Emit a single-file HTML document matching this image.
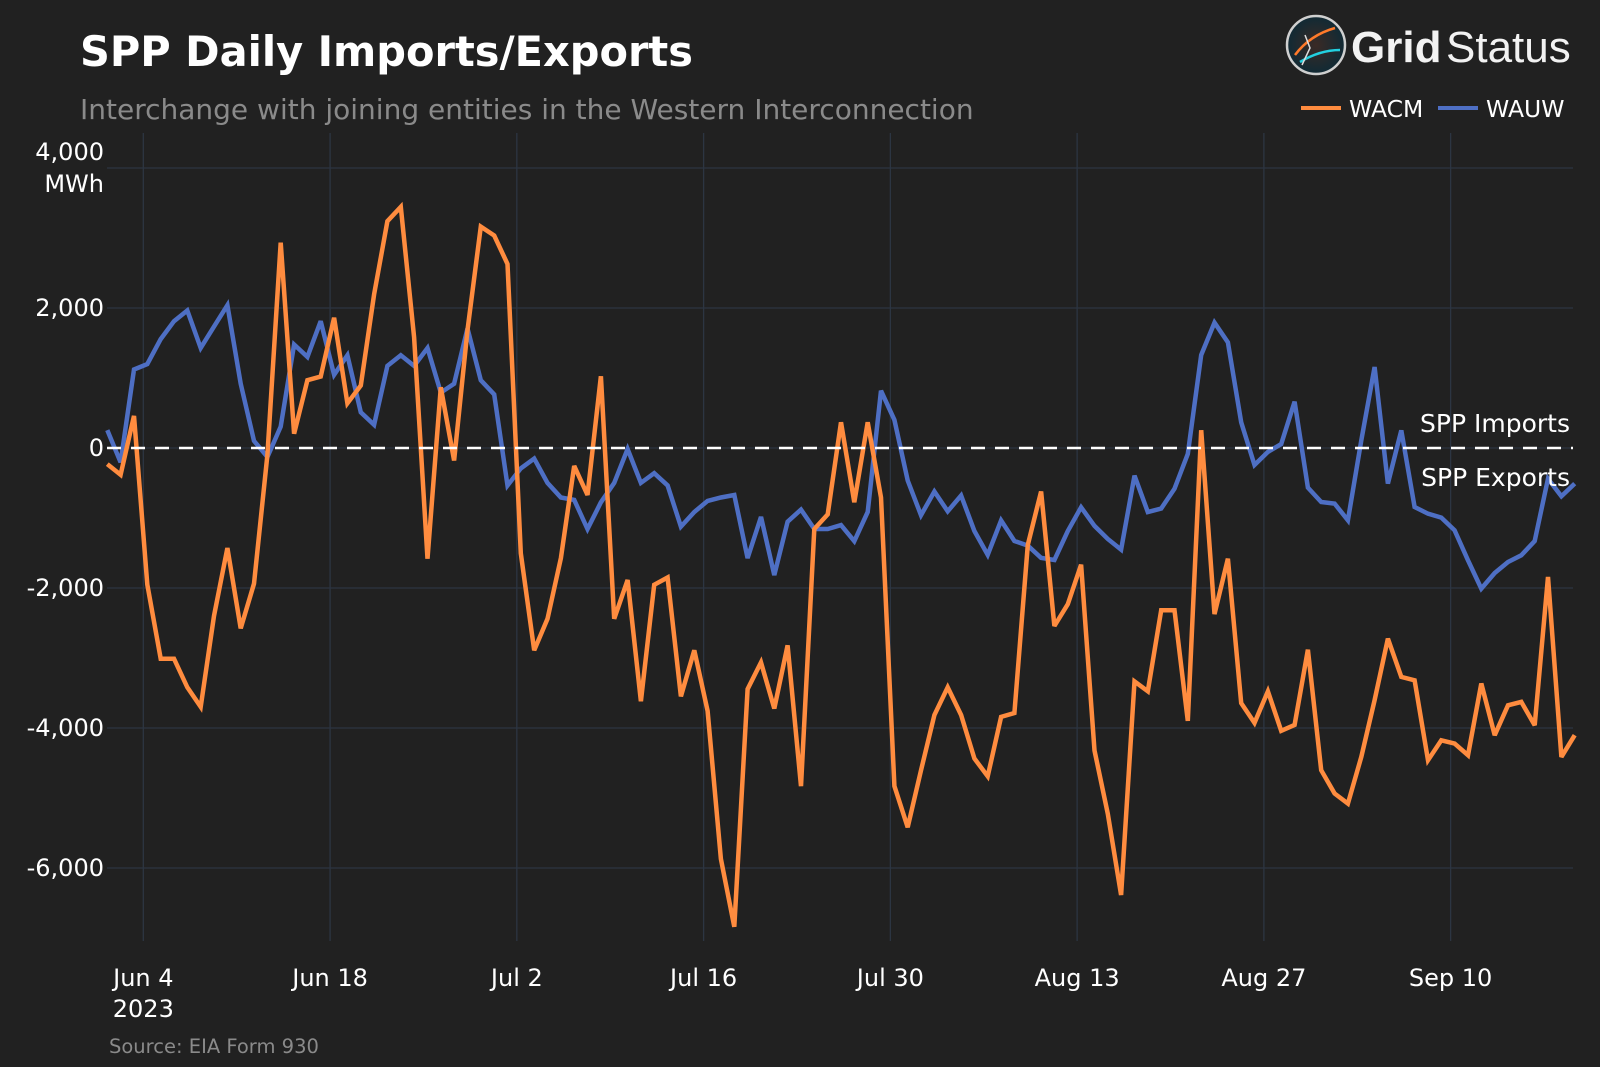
<!DOCTYPE html>
<html><head><meta charset="utf-8"><style>
body{margin:0;background:#212121;}
svg{display:block;font-family:"Liberation Sans","DejaVu Sans",sans-serif;}
</style></head><body>
<svg id="chart" width="1600" height="1067" viewBox="0 0 1600 1067">
<rect width="1600" height="1067" fill="#212121"/>
<text x="80" y="66" fill="#ffffff" font-size="41.5" font-weight="bold" font-family="DejaVu Sans, sans-serif">SPP Daily Imports/Exports</text>
<text x="80" y="119" fill="#8a8a8a" font-size="28" font-family="DejaVu Sans, sans-serif">Interchange with joining entities in the Western Interconnection</text>
<g>
<defs><radialGradient id="lg" cx="50%" cy="50%" r="50%"><stop offset="0" stop-color="#3a2a25"/><stop offset="1" stop-color="#102a35"/></radialGradient></defs>
<circle cx="1316" cy="45" r="29" fill="url(#lg)" stroke="#cfcfcf" stroke-width="2.5"/>
<path d="M1295 55 Q1310 35 1335 28" stroke="#ff7a2a" stroke-width="2.5" fill="none"/>
<path d="M1300 62 Q1320 50 1340 50" stroke="#22d0e0" stroke-width="2.5" fill="none"/>
<path d="M1305 35 L1310 48 L1302 65" stroke="#dddddd" stroke-width="1.5" fill="none"/>
<text x="1351" y="62" fill="#f2f2f2" font-size="44" font-weight="bold">Grid</text>
<text x="1446" y="62" fill="#f2f2f2" font-size="44">Status</text>
</g>
<g>
<g><line x1="1301" y1="108" x2="1341" y2="108" stroke="#ff8c3f" stroke-width="4"/><text x="1349" y="117" fill="#ffffff" font-size="23.5" font-family="DejaVu Sans, sans-serif">WACM</text></g>
<g><line x1="1438" y1="108" x2="1478" y2="108" stroke="#4e6fc4" stroke-width="4"/><text x="1486" y="117" fill="#ffffff" font-size="23.5" font-family="DejaVu Sans, sans-serif">WAUW</text></g>
</g>
<g id="grid"></g>
<g id="lines"></g>
<g id="labels"></g>
<text x="109" y="1053" fill="#8a8a8a" font-size="19.5" font-family="DejaVu Sans, sans-serif">Source: EIA Form 930</text>
</svg>
<script>
const wacm=[-230,-383,459,-1950,-3010,-3010,-3418,-3699,-2398,-1429,-2577,-1939,-100,2934,204,969,1020,1862,638,893,2194,3240,3444,1582,-1582,867,-179,1684,3163,3036,2628,
-1504,-2890,-2440,-1573,-256,-672,1026,-2440,-1885,-3617,-1954,-1850,-3548,-2890,-3756,-5870,-6840,-3444,-3063,-3721,-2820,-4830,-1157,-949,367,-776,367,-707,-4830,-5419,
-4605,-3814,-3418,-3814,-4435,-4690,-3842,-3786,-1384,-622,-2543,-2232,-1667,-4322,-5226,-6385,-3334,-3475,-2317,-2317,-3899,254,-2373,-1582,-3644,-3927,-3475,-4040,-3955,-2882,
-4603,-4936,-5080,-4413,-3603,-2723,-3270,-3318,-4460,-4175,-4222,-4389,-3365,-4103,-3675,-3627,-3960,-1842,-4413,-4103];
const wauw=[255,-204,1122,1199,1556,1811,1964,1428,1734,2040,918,102,-128,306,1479,1301,1811,1046,1326,510,332,1173,1326,1173,1428,791,918,1709,969,765,-536,
-291,-152,-499,-707,-742,-1157,-776,-499,-14,-499,-360,-534,-1123,-915,-755,-707,-672,-1573,-984,-1816,-1053,-880,-1157,-1157,-1102,-1331,-915,818,402,-464,
-960,-621,-904,-678,-1186,-1525,-1034,-1328,-1395,-1570,-1600,-1186,-847,-1113,-1300,-1452,-395,-915,-864,-582,-85,1328,1791,1509,367,-243,-56,56,661,-565,
-771,-795,-1033,109,1157,-509,252,-843,-938,-995,-1176,-1604,-2009,-1785,-1628,-1533,-1328,-438,-690,-509];
const yTicks=[4000,2000,0,-2000,-4000,-6000];
const yTickLabels=["4,000","2,000","0","-2,000","-4,000","-6,000"];
const xTickDays=[3,17,31,45,59,73,87,101];
const xTickLabels=["Jun 4","Jun 18","Jul 2","Jul 16","Jul 30","Aug 13","Aug 27","Sep 10"];

const NS="http://www.w3.org/2000/svg";
const X0=107.3, DX=13.34, Y0=448, KY=0.07;
const PL=107, PR=1573, PT=133, PB=941;
const FONT='DejaVu Sans, sans-serif';
function xd(i){return X0+DX*i;}
function ys(v){return Y0-v*KY;}
function mk(tag,attrs,parent){const e=document.createElementNS(NS,tag);for(const k in attrs)e.setAttribute(k,attrs[k]);parent.appendChild(e);return e;}
const grid=document.getElementById('grid'),lines=document.getElementById('lines'),labels=document.getElementById('labels');
yTicks.forEach((v,k)=>{
  const l=mk('line',{x1:PL,x2:PR,y1:ys(v),y2:ys(v),stroke:'#2c3542','stroke-width':1.3},grid);
  
  
  const ty = v===4000 ? ys(v)-8 : ys(v)+8;
  const t=mk('text',{x:104,y:ty,fill:'#ffffff','font-size':24,'text-anchor':'end','font-family':FONT},labels);
  t.textContent=yTickLabels[k];
  
  
});
const u=mk('text',{x:104,y:ys(4000)+24,fill:'#ffffff','font-size':24,'text-anchor':'end','font-family':FONT},labels);
u.textContent='MWh';


xTickDays.forEach((d,k)=>{
  const x=xd(d-0.3);
  const l=mk('line',{x1:x,x2:x,y1:PT,y2:PB,stroke:'#2c3542','stroke-width':1.3},grid);
  
  
  const t=mk('text',{x:x,y:986,fill:'#ffffff','font-size':24,'text-anchor':'middle','font-family':FONT},labels);
  t.textContent=xTickLabels[k];
  
  
});
const yr=mk('text',{x:xd(2.7),y:1017,fill:'#ffffff','font-size':24,'text-anchor':'middle','font-family':FONT},labels);
yr.textContent='2023';


function series(arr,color,name){
  const p=mk('path',{d:arr.map((v,i)=>(i?'L':'M')+xd(i).toFixed(1)+' '+ys(v).toFixed(1)).join(' '),fill:'none',stroke:color,'stroke-width':4.5,'stroke-linejoin':'miter','stroke-miterlimit':3},lines);
  
  
}
series(wauw,'#4e6fc4','wauw-line');
series(wacm,'#ff8c3f','wacm-line');
const zl=mk('line',{x1:PL,x2:PR,y1:ys(0),y2:ys(0),stroke:'#ffffff','stroke-width':2.5,'stroke-dasharray':'14 10'},lines);


const a1=mk('text',{x:1570,y:432,fill:'#ffffff','font-size':25,'text-anchor':'end','font-family':FONT},labels);
a1.textContent='SPP Imports';


const a2=mk('text',{x:1570,y:486,fill:'#ffffff','font-size':25,'text-anchor':'end','font-family':FONT},labels);
a2.textContent='SPP Exports';


</script>
</body></html>
